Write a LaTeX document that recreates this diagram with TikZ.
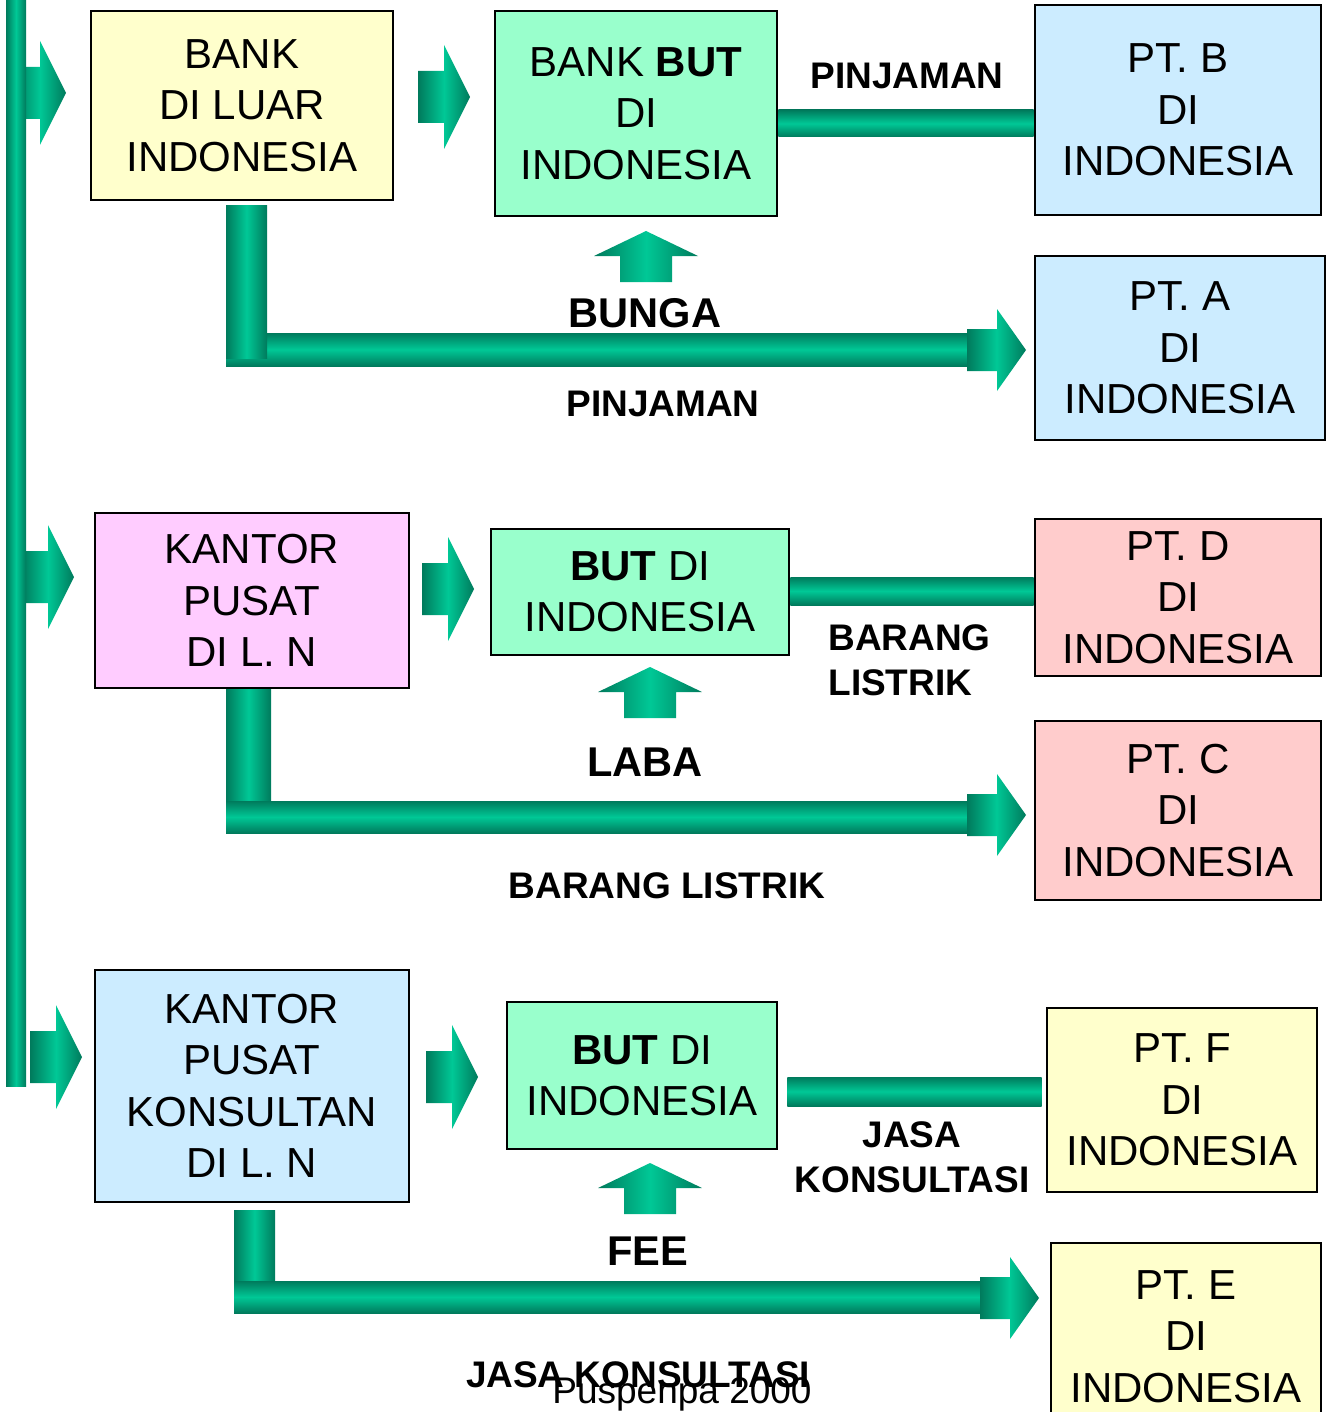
\documentclass[tikz,border=0pt]{standalone}
\usepackage{fontspec}
\setmainfont{Liberation Sans}
\usetikzlibrary{calc}
\definecolor{gdark}{RGB}{0,122,92}
\definecolor{glight}{RGB}{0,200,150}
\definecolor{kuning}{RGB}{255,255,204}
\definecolor{hijau}{RGB}{153,255,204}
\definecolor{biru}{RGB}{204,236,255}
\definecolor{merah}{RGB}{255,204,204}
\definecolor{ungu}{RGB}{255,204,255}
\begin{document}
\begin{tikzpicture}
  [x=0.5pt,y=-0.5pt,
   kotak/.style={rectangle,draw=black,line width=1.3pt,align=center,inner sep=0pt,
     font=\fontsize{21}{25.7}\selectfont},
   ket/.style={font=\bfseries\fontsize{18.5}{22.5}\selectfont,align=center,inner sep=0pt},
   besar/.style={font=\bfseries\fontsize{20.8}{25}\selectfont,inner sep=0pt},
   vtube/.style={left color=gdark,right color=gdark,middle color=glight},
   htube/.style={top color=gdark,bottom color=gdark,middle color=glight}]
\useasboundingbox (0,0) rectangle (1331,1412);

% panah kecil ke kanan
\foreach \tx/\ty in {66/93, 74/577, 82/1057, 470/97, 474/589, 478/1077}
  \shade[vtube] ({\tx-52},{\ty-26}) -- ({\tx-26},{\ty-26}) -- ({\tx-26},{\ty-52})
    -- (\tx,\ty) -- ({\tx-26},{\ty+52}) -- ({\tx-26},{\ty+26}) -- ({\tx-52},{\ty+26}) -- cycle;

% batang kiri
\shade[vtube] (6,0) rectangle (26,1086);

% panah ke atas
\foreach \tx/\ty in {646/231, 650/667, 650/1163}
  \shade[vtube] (\tx,\ty) -- ({\tx+52},{\ty+25}) -- ({\tx+26},{\ty+25}) -- ({\tx+26},{\ty+51})
    -- ({\tx-26},{\ty+51}) -- ({\tx-26},{\ty+25}) -- ({\tx-52},{\ty+25}) -- cycle;

% jalur L
\shade[htube] (226,333) rectangle (968,366);
\shade[vtube] (226,206) rectangle (267,358);
\shade[vtube] (226,688) rectangle (271,801);
\shade[htube] (226,801) rectangle (968,833);
\shade[vtube] (234,1210) rectangle (275,1282);
\shade[htube] (234,1281) rectangle (981,1313);
\foreach \tx/\ty in {1026/350, 1026/815, 1039/1298}
  \shade[vtube] ({\tx-59},{\ty-21}) -- ({\tx-29},{\ty-21}) -- ({\tx-29},{\ty-41})
    -- (\tx,\ty) -- ({\tx-29},{\ty+41}) -- ({\tx-29},{\ty+21}) -- ({\tx-59},{\ty+21}) -- cycle;

% kotak
\node[kotak,fill=kuning,minimum width=151pt,minimum height=94.5pt] (bankln) at (242,105.5) {BANK\\DI LUAR\\INDONESIA};
\node[kotak,fill=hijau,minimum width=141pt,minimum height=102.5pt] (bankbut) at (636,113.5) {BANK \textbf{BUT}\\DI\\INDONESIA};
\node[kotak,fill=biru,minimum width=143pt,minimum height=105pt] (ptb) at (1178,110) {PT. B\\DI\\INDONESIA};
\node[kotak,fill=biru,minimum width=145pt,minimum height=92pt] (pta) at (1180,348) {PT. A\\DI\\INDONESIA};

\node[kotak,fill=ungu,minimum width=157pt,minimum height=87.5pt] (kpusat) at (252,600.5) {KANTOR\\PUSAT\\DI L. N};
\node[kotak,fill=hijau,minimum width=149pt,minimum height=63pt] (but2) at (640,592) {\textbf{BUT} DI\\INDONESIA};
\node[kotak,fill=merah,minimum width=143pt,minimum height=78.5pt] (ptd) at (1178,597.5) {PT. D\\DI\\INDONESIA};
\node[kotak,fill=merah,minimum width=143pt,minimum height=89.5pt] (ptc) at (1178,810.5) {PT. C\\DI\\INDONESIA};

\node[kotak,fill=biru,minimum width=157pt,minimum height=116pt] (kkons) at (252,1086) {KANTOR\\PUSAT\\KONSULTAN\\DI L. N};
\node[kotak,fill=hijau,minimum width=135pt,minimum height=73.5pt] (but3) at (642,1075.5) {\textbf{BUT} DI\\INDONESIA};
\node[kotak,fill=kuning,minimum width=135pt,minimum height=92pt] (ptf) at (1182,1100) {PT. F\\DI\\INDONESIA};
\node[kotak,fill=kuning,minimum width=135pt,minimum height=93.5pt] (pte) at (1186,1336.5) {PT. E\\DI\\INDONESIA};

% penghubung BUT - PT
\shade[htube] (bankbut.east |- 0,110) rectangle (ptb.west |- 0,137);
\shade[htube] (but2.east |- 0,577) rectangle (ptd.west |- 0,605);
\shade[htube] ($(but3.east |- 0,1077)+(9,0)$) rectangle ($(ptf.west |- 0,1106)+(-4,0)$);

% keterangan
\node[ket] (pinj1) at (907,76) {PINJAMAN};
\node[besar] (bunga) at (645,313) {BUNGA};
\node[ket] (pinj2) at (663,404) {PINJAMAN};
\node[ket,align=left,anchor=west] (barang1) at (828,660) {BARANG\\LISTRIK};
\node[besar] (laba) at (645,762) {LABA};
\node[ket] (barang2) at (667,886) {BARANG LISTRIK};
\node[ket] (jasa1) at (912,1157) {JASA\\KONSULTASI};
\node[besar] (fee) at (648,1251) {FEE};
\node[ket] (jasa2) at (638,1375) {JASA KONSULTASI};
\node[inner sep=0pt,anchor=base,font=\fontsize{18.5}{22}\selectfont] (puspenpa) at (682,1403) {Puspenpa 2000};
\end{tikzpicture}
\end{document}
